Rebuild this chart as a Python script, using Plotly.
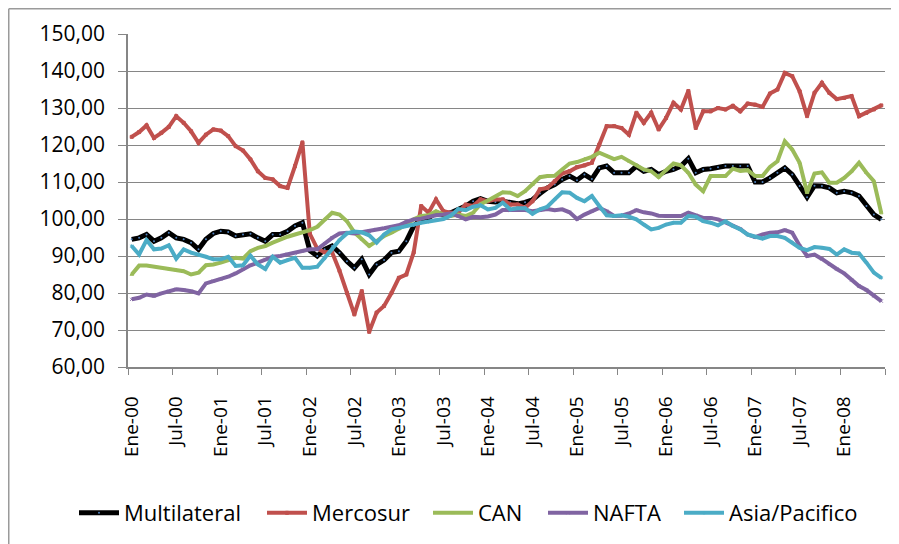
import plotly.graph_objects as go

month_names = ["Ene", "Feb", "Mar", "Abr", "May", "Jun", "Jul", "Ago", "Sep", "Oct", "Nov", "Dic"]
years = ["00", "01", "02", "03", "04", "05", "06", "07", "08"]
categories = [f"{m}-{y}" for y in years for m in month_names][:102]  # Ene-00 .. Jun-08

tick_labels = ["Ene-00", "Jul-00", "Ene-01", "Jul-01", "Ene-02", "Jul-02", "Ene-03", "Jul-03", "Ene-04",
               "Jul-04", "Ene-05", "Jul-05", "Ene-06", "Jul-06", "Ene-07", "Jul-07", "Ene-08"]

multilateral = [94.5, 94.9, 95.8, 94.0, 94.9, 96.3, 94.9, 94.5, 93.6, 91.8, 94.5, 96.1, 96.7, 96.5, 95.4, 95.8,
                96.0, 94.9, 94.0, 95.8, 95.8, 96.7, 98.1, 99.0,
                91.5, 90.0, 91.8, 92.7, 90.9, 88.6, 86.8, 89.1, 85.0, 87.7, 88.9, 90.9, 91.3, 94.0, 98.1, 99.9,
                100.3, 101.7, 101.2, 101.7, 102.6, 103.5, 104.8,
                105.5, 104.8, 104.6, 104.8, 104.5, 104.1, 104.5, 105.2, 106.9, 108.4, 109.3, 110.7, 111.6, 110.5,
                112.0, 110.8, 113.8, 114.3, 112.5, 112.5, 112.5, 114.3, 112.9, 113.4, 112.0, 112.9, 113.4,
                114.3, 116.3, 112.5, 113.4, 113.6, 114.0, 114.3, 114.3, 114.3, 114.3, 110.0, 110.0, 111.1, 112.5,
                113.8, 112.0, 108.9, 105.9, 109.0, 108.9, 108.4, 107.1, 107.5, 107.1, 106.2, 103.5, 101.2, 99.9]

mercosur = [122.2, 123.5, 125.3, 121.9, 123.3, 124.9, 127.8, 126.0, 123.7, 120.6, 122.8, 124.2, 123.9, 122.4,
            119.7, 118.5, 116.1, 112.9, 111.1, 110.7, 108.9, 108.4, 114.3, 120.7,
            96.0, 92.0, 91.0, 91.0, 86.0, 80.0, 74.2, 80.5, 69.5, 74.7, 76.5, 80.0, 84.1, 85.0, 91.0, 103.5,
            101.7, 105.3, 102.1, 101.7, 101.7, 103.9, 103.5,
            105.3, 104.8, 105.3, 105.3, 103.9, 103.9, 103.0, 104.8, 108.0, 108.4, 110.2, 112.3, 112.9, 114.0,
            114.5, 115.2, 120.1, 125.1, 125.1, 124.6, 122.8, 128.7, 126.0, 128.7, 124.2, 127.3, 131.4,
            129.6, 134.6, 124.6, 129.1, 129.1, 130.0, 129.6, 130.6, 129.1, 131.2, 130.9, 130.3, 133.9, 135.0,
            139.5, 138.6, 134.5, 127.8, 134.1, 136.8, 134.1, 132.4, 132.7, 133.2, 127.8, 128.7, 129.6, 130.7]

can = [85.0, 87.4, 87.4, 87.1, 86.8, 86.5, 86.2, 85.9, 85.0, 85.5, 87.5, 87.7, 88.2, 88.9, 89.5, 89.3, 91.3,
       92.2, 92.7, 93.6, 94.5, 95.2, 95.8, 96.3,
       97.0, 97.9, 99.9, 101.7, 101.2, 99.4, 96.4, 94.5, 92.7, 94.0, 95.4, 96.3, 97.3, 98.5, 99.9, 100.8,
       101.0, 102.1, 101.2, 100.8, 101.2, 100.8, 101.7,
       104.0, 105.0, 106.0, 107.2, 107.1, 106.2, 107.5, 109.3, 111.3, 111.6, 111.7, 113.4, 115.0, 115.4,
       116.2, 116.8, 117.9, 117.1, 116.2, 116.8, 115.6, 114.7, 113.4, 112.9, 111.3, 113.2, 115.0,
       114.5, 112.5, 109.3, 107.5, 111.6, 111.7, 111.6, 113.6, 113.0, 113.2, 111.6, 111.6, 114.1, 115.6,
       121.0, 118.8, 115.2, 107.1, 112.3, 112.6, 109.8, 109.8, 111.1, 112.9, 115.2, 112.5, 110.2, 101.6]

nafta = [78.3, 78.7, 79.6, 79.2, 79.9, 80.5, 81.0, 80.8, 80.5, 79.9, 82.6, 83.2, 83.7, 84.4, 85.3, 86.5, 87.5,
         88.2, 89.1, 89.8, 90.0, 90.5, 90.8, 91.3,
         91.8, 91.8, 93.4, 94.9, 96.1, 96.3, 96.1, 96.4, 96.7, 97.2, 97.5, 97.9, 98.3, 99.2, 99.9, 100.1,
         100.6, 101.0, 101.2, 101.5, 100.8, 99.9, 100.6,
         100.5, 100.7, 101.2, 102.4, 102.4, 102.4, 102.4, 102.1, 102.4, 102.7, 102.4, 102.6, 101.8, 100.0,
         101.2, 102.1, 103.0, 102.1, 100.8, 100.9, 101.5, 102.4, 101.8, 101.5, 100.9, 100.8, 100.8,
         100.8, 101.7, 101.0, 100.3, 100.3, 99.9, 99.1, 98.2, 97.3, 95.8, 95.1, 95.8, 96.3, 96.4, 97.0,
         96.3, 92.8, 90.0, 90.4, 89.2, 87.7, 86.5, 85.3, 83.5, 81.9, 80.8, 79.2, 77.8]

asia_pacifico = [92.7, 90.4, 94.3, 91.8, 92.0, 92.9, 89.3, 91.8, 90.9, 90.4, 89.8, 89.1, 89.1, 89.8, 87.3,
                 87.5, 90.1, 87.7, 86.5, 89.8, 88.2, 88.9, 89.5, 86.8,
                 86.8, 87.1, 89.3, 91.9, 94.3, 96.1, 96.6, 96.4, 95.6, 93.6, 95.8, 97.2, 97.6, 98.1, 98.5,
                 99.0, 99.3, 99.7, 100.0, 100.9, 102.7, 102.4, 103.3,
                 103.7, 102.6, 103.0, 104.4, 102.6, 102.9, 102.9, 101.4, 102.6, 103.3, 105.3, 107.2, 107.1,
                 105.7, 104.8, 106.2, 103.5, 101.0, 100.8, 101.0, 100.6, 99.9, 98.5, 97.2, 97.6, 98.5, 99.0,
                 99.0, 100.8, 100.6, 99.4, 99.0, 98.3, 99.4, 98.1, 97.2, 95.8, 95.2, 94.7, 95.4, 95.4, 94.9,
                 93.7, 92.2, 91.6, 92.4, 92.2, 91.9, 90.4, 91.8, 90.9, 90.7, 88.2, 85.5, 84.1]

series_names = ["Multilateral", "Mercosur", "CAN", "NAFTA", "Asia/Pacifico"]
series_values = [multilateral, mercosur, can, nafta, asia_pacifico]
series_colors = ["#000000", "#C0504D", "#9BBB59", "#8064A2", "#4BACC6"]
marker_symbols = ["circle", "square", "triangle-up", "x-thin", "asterisk"]
marker_fills = ["#4F81BD", "#C0504D", "#9BBB59", "#8064A2", "#4BACC6"]
marker_sizes = [2, 3, 3, 3, 3]
marker_line_widths = [0, 1, 1, 1, 1]
line_widths = [5, 4, 4, 4, 4]

# layout geometry (figure pixels; page body adds an 8px offset)
W, H = 899, 544
ML, MR, MT, MB = 120, 22, 26, 185
PW, PH = W - ML - MR, H - MT - MB
legend_text_x = [125, 313, 479, 594, 730]   # page x where each legend label starts
legend_center_y = 505

x_idx = list(range(len(categories)))
tick_pos = [categories.index(t) for t in tick_labels]

fig = go.Figure()
legend_layouts = {}
for k, name in enumerate(series_names):
    lg = "legend" if k == 0 else f"legend{k + 1}"
    fig.add_trace(go.Scatter(
        x=x_idx, y=series_values[k], name=name, mode="lines+markers", legend=lg,
        line=dict(color=series_colors[k], width=line_widths[k]),
        marker=dict(symbol=marker_symbols[k], size=marker_sizes[k], color=marker_fills[k],
                    line=dict(color=series_colors[k], width=marker_line_widths[k])),
        text=categories, hovertemplate="%{text}: %{y:.2f}<extra>" + name + "</extra>",
    ))
    legend_layouts[lg] = dict(
        orientation="h", xref="container", yref="container",
        x=(legend_text_x[k] - 59) / W, y=1 - legend_center_y / H,
        xanchor="left", yanchor="middle",
        font=dict(size=22), itemwidth=40, bgcolor="rgba(0,0,0,0)",
    )

font_family = "Open Sans, Liberation Sans, sans-serif"
axis_gray = "#868686"
frame_gray = "#9a9a9a"

fig.update_layout(
    width=W, height=H,
    margin=dict(l=ML, r=MR, t=MT, b=MB, autoexpand=False),
    paper_bgcolor="white", plot_bgcolor="white",
    separators=",.",
    font=dict(family=font_family, size=21, color="#000000"),
    showlegend=True,
    xaxis=dict(
        range=[-0.5, len(categories) - 0.5], automargin=False,
        tickmode="array", tickvals=tick_pos, ticktext=tick_labels,
        tickangle=-90, ticks="", showgrid=False,
        showline=True, linecolor=axis_gray, linewidth=1.5,
        ticklabelstandoff=20,
        tickfont=dict(size=19),
        minor=dict(tickmode="array",
                   tickvals=[p - 0.5 for p in tick_pos] + [len(categories) - 0.5],
                   ticks="outside", ticklen=6, tickcolor=axis_gray, showgrid=False),
        zeroline=False,
    ),
    yaxis=dict(
        range=[60, 150], automargin=False,
        tickmode="linear", tick0=60, dtick=10, tickformat=".2f",
        showgrid=True, gridcolor=axis_gray, gridwidth=1.2,
        showline=True, linecolor=axis_gray, linewidth=1.5,
        ticks="outside", ticklen=8, tickcolor=axis_gray,
        ticklabelstandoff=9,
        tickfont=dict(size=21),
        zeroline=False,
    ),
    shapes=[
        dict(type="line", xref="paper", yref="paper",
             x0=(0.75 - ML) / PW, x1=(0.75 - ML) / PW, y0=(MT + PH - 0.75) / PH, y1=-1,
             line=dict(color=frame_gray, width=1.5)),
        dict(type="line", xref="paper", yref="paper",
             x0=(0.75 - ML) / PW, x1=1.2, y0=(MT + PH - 0.75) / PH, y1=(MT + PH - 0.75) / PH,
             line=dict(color=frame_gray, width=1.5)),
    ],
    **legend_layouts,
)

fig.write_html("out.html")
